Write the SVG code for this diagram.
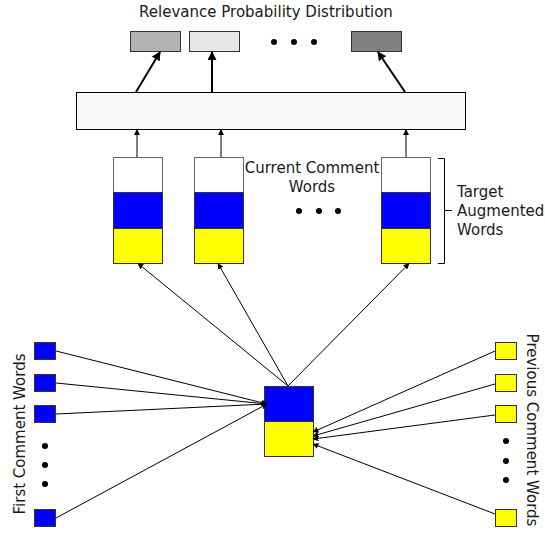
<svg xmlns="http://www.w3.org/2000/svg" width="545" height="533" viewBox="0 0 545 533">
<defs>
<marker id="ah" viewBox="0 0 10 10" refX="9" refY="5" markerWidth="6" markerHeight="6" markerUnits="userSpaceOnUse" orient="auto">
<path d="M0,0 L10,5 L0,10 z" fill="#000"/>
</marker>
<marker id="ahb" viewBox="0 0 10 10" refX="9" refY="5" markerWidth="9" markerHeight="9" markerUnits="userSpaceOnUse" orient="auto">
<path d="M0,0 L10,5 L0,10 z" fill="#000"/>
</marker>
</defs>
<style>
text{font-family:"DejaVu Sans",sans-serif;fill:#1a1a1a}
.t{font-size:15px}
.l{font-size:15px}
.box{stroke:#333;stroke-width:1}
.c{stroke:#000;stroke-width:1;fill:none}
.cb{stroke:#000;stroke-width:2;fill:none}
</style>
<rect width="545" height="533" fill="#fff"/>
<text class="t" x="266" y="17" text-anchor="middle">Relevance Probability Distribution</text>
<g id="out1"><rect class="box" x="130.5" y="31.5" width="50" height="20" fill="#b3b3b3"/></g>
<g id="out2"><rect class="box" x="189.5" y="31.5" width="50" height="20" fill="#e6e6e6"/></g>
<g id="out3"><rect class="box" x="351.5" y="31.5" width="50" height="20" fill="#808080"/></g>
<g id="dotsTop" fill="#000"><circle cx="274" cy="42" r="3"/><circle cx="294" cy="42" r="3"/><circle cx="314" cy="42" r="3"/></g>
<g id="layer"><rect x="76.5" y="92.5" width="389" height="37" fill="#f8f8f8" stroke="#000"/></g>
<g id="col1">
<rect x="113.5" y="157.5" width="49" height="35" fill="#fff" stroke="#666"/>
<rect class="box" x="113.5" y="192.5" width="49" height="36" fill="#0000ff"/>
<rect class="box" x="113.5" y="228.5" width="49" height="35" fill="#ffff00"/>
</g>
<g id="col2">
<rect x="194.5" y="157.5" width="49" height="35" fill="#fff" stroke="#666"/>
<rect class="box" x="194.5" y="192.5" width="49" height="36" fill="#0000ff"/>
<rect class="box" x="194.5" y="228.5" width="49" height="35" fill="#ffff00"/>
</g>
<g id="col3">
<rect x="381.5" y="157.5" width="49" height="35" fill="#fff" stroke="#666"/>
<rect class="box" x="381.5" y="192.5" width="49" height="36" fill="#0000ff"/>
<rect class="box" x="381.5" y="228.5" width="49" height="35" fill="#ffff00"/>
</g>
<text class="l" x="312" y="173" text-anchor="middle">Current Comment</text>
<text class="l" x="312" y="192" text-anchor="middle">Words</text>
<g id="dotsMid" fill="#000"><circle cx="299" cy="211" r="3"/><circle cx="319" cy="211" r="3"/><circle cx="338" cy="211" r="3"/></g>
<g id="brace"><path d="M438,158.5 H444.5 V263.5 H438 M444.5,210.5 H452" fill="none" stroke="#000"/></g>
<text class="l" x="457" y="197">Target</text>
<text class="l" x="457" y="216">Augmented</text>
<text class="l" x="457" y="235">Words</text>
<g id="center">
<rect class="box" x="264.5" y="386.5" width="49" height="35" fill="#0000ff"/>
<rect class="box" x="264.5" y="421.5" width="49" height="35" fill="#ffff00"/>
</g>
<g id="first" fill="#0000ff" stroke="#333">
<rect x="34.5" y="342.5" width="21" height="17"/>
<rect x="34.5" y="374.5" width="21" height="17"/>
<rect x="34.5" y="405.5" width="21" height="17"/>
<rect x="34.5" y="509.5" width="21" height="17"/>
</g>
<g id="dotsLeft" fill="#000"><circle cx="45" cy="446" r="3"/><circle cx="45" cy="465" r="3"/><circle cx="45" cy="484" r="3"/></g>
<text class="l" transform="translate(25,434) rotate(-90)" text-anchor="middle">First Comment Words</text>
<g id="prev" fill="#ffff00" stroke="#333">
<rect x="495.5" y="342.5" width="21" height="17"/>
<rect x="495.5" y="374.5" width="21" height="17"/>
<rect x="495.5" y="405.5" width="21" height="17"/>
<rect x="495.5" y="509.5" width="21" height="17"/>
</g>
<g id="dotsRight" fill="#000"><circle cx="506" cy="441" r="3"/><circle cx="506" cy="461" r="3"/><circle cx="506" cy="480" r="3"/></g>
<text class="l" transform="translate(527,430) rotate(90)" text-anchor="middle">Previous Comment Words</text>
<g id="connectors">
<line class="cb" x1="136" y1="92" x2="160" y2="52" marker-end="url(#ahb)"/>
<line class="cb" x1="212" y1="92" x2="212" y2="52" marker-end="url(#ahb)"/>
<line class="cb" x1="405" y1="92" x2="378" y2="52" marker-end="url(#ahb)"/>
<line class="c" x1="137" y1="157" x2="137" y2="129.5" marker-end="url(#ah)"/>
<line class="c" x1="221" y1="157" x2="221" y2="129.5" marker-end="url(#ah)"/>
<line class="c" x1="406" y1="157" x2="406" y2="129.5" marker-end="url(#ah)"/>
<line class="c" x1="288" y1="386" x2="138" y2="263.5" marker-end="url(#ah)"/>
<line class="c" x1="288" y1="386" x2="218" y2="263.5" marker-end="url(#ah)"/>
<line class="c" x1="288" y1="386" x2="409" y2="263.5" marker-end="url(#ah)" stroke-width="1.5"/>
<line class="c" x1="56" y1="351" x2="267" y2="404" marker-end="url(#ah)"/>
<line class="c" x1="56" y1="383" x2="267" y2="404" marker-end="url(#ah)"/>
<line class="c" x1="56" y1="414" x2="267" y2="404" marker-end="url(#ah)"/>
<line class="c" x1="56" y1="518" x2="267" y2="404" marker-end="url(#ah)"/>
<line class="c" x1="495" y1="351" x2="313" y2="432" marker-end="url(#ah)"/>
<line class="c" x1="495" y1="384" x2="313" y2="436" marker-end="url(#ah)"/>
<line class="c" x1="495" y1="415" x2="313" y2="439" marker-end="url(#ah)"/>
<line class="c" x1="495" y1="514" x2="313" y2="444" marker-end="url(#ah)"/>
</g>
</svg>
